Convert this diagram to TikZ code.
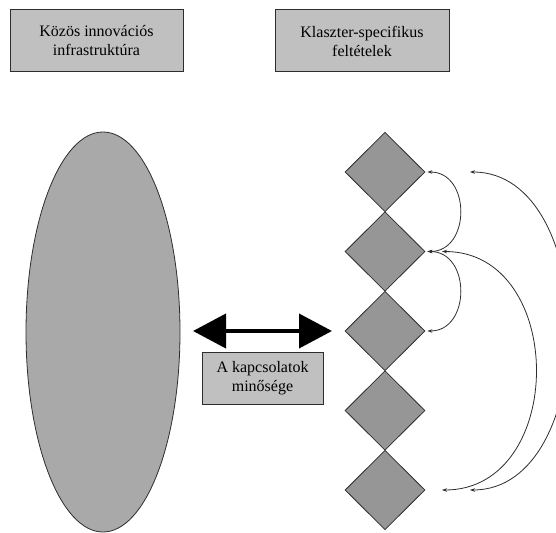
\documentclass[tikz,border=0pt]{standalone}
\usepackage{fontspec}
\setmainfont{Liberation Serif}
\usetikzlibrary{shapes.geometric,arrows.meta}
\definecolor{boxgray}{RGB}{192,192,192}
\definecolor{ellgray}{RGB}{169,169,169}
\definecolor{diagray}{RGB}{150,150,150}
\definecolor{edgegray}{RGB}{45,45,45}
\tikzset{
  labelbox/.style={draw=edgegray, line width=1pt, fill=boxgray, rectangle, inner sep=0pt,
    align=center, font=\fontsize{16pt}{19pt}\selectfont},
  diabox/.style={draw=edgegray, line width=0.8pt, fill=diagray, diamond, inner sep=0pt,
    minimum width=80pt, minimum height=79.5pt},
  link/.style={draw=edgegray, line width=0.8pt, {Stealth[length=5pt,width=3.5pt]}-{Stealth[length=5pt,width=3.5pt]}},
  bigarrow/.style={line width=4pt, black, {Triangle[length=33pt,width=34pt]}-{Triangle[length=33pt,width=34pt]}}
}
\begin{document}
\begin{tikzpicture}[x=1pt,y=-1pt]
\useasboundingbox (0,0) rectangle (556,532);
% top boxes
\node[labelbox, minimum width=173pt, minimum height=62pt] (b1) at (96.5,41) {Közös innovációs\\infrastruktúra};
\node[labelbox, minimum width=174pt, minimum height=62pt] (b2) at (362,41) {Klaszter-specifikus\\feltételek};
% ellipse
\node[draw=edgegray, line width=0.8pt, fill=ellgray, ellipse, inner sep=0pt,
  minimum width=154pt, minimum height=400pt] (ell) at (103,332) {};
% double arrow
\coordinate (al) at (193,331);
\coordinate (ar) at (332,331);
\draw[bigarrow] (al) -- (ar);
% quality box
\node[labelbox, minimum width=121pt, minimum height=52pt] (b3) at (262.5,378) {A kapcsolatok\\minősége};
% diamonds
\node[diabox] (d1) at (385,172) {};
\node[diabox] (d2) at (385,251.5) {};
\node[diabox] (d3) at (385,331) {};
\node[diabox] (d4) at (385,410.5) {};
\node[diabox] (d5) at (385,490) {};
% connectors
\coordinate (p1) at ([xshift=2pt]d1.east);
\coordinate (p2) at ([xshift=2pt]d2.east);
\coordinate (p3) at ([xshift=2pt]d3.east);
\coordinate (q2) at (442,251.5);
\coordinate (q5) at (442,490);
\coordinate (r1) at (470,172);
\coordinate (r5) at (470,490);
\draw[link] (p2) .. controls (471,251.5) and (471,172) .. (p1);
\draw[link] (p2) .. controls (471,251.5) and (471,331) .. (p3);
\draw[link] (q2) .. controls (567,251.5) and (567,490) .. (q5);
\draw[link] (r1) .. controls (601,172) and (601,490) .. (r5);
\end{tikzpicture}
\end{document}
